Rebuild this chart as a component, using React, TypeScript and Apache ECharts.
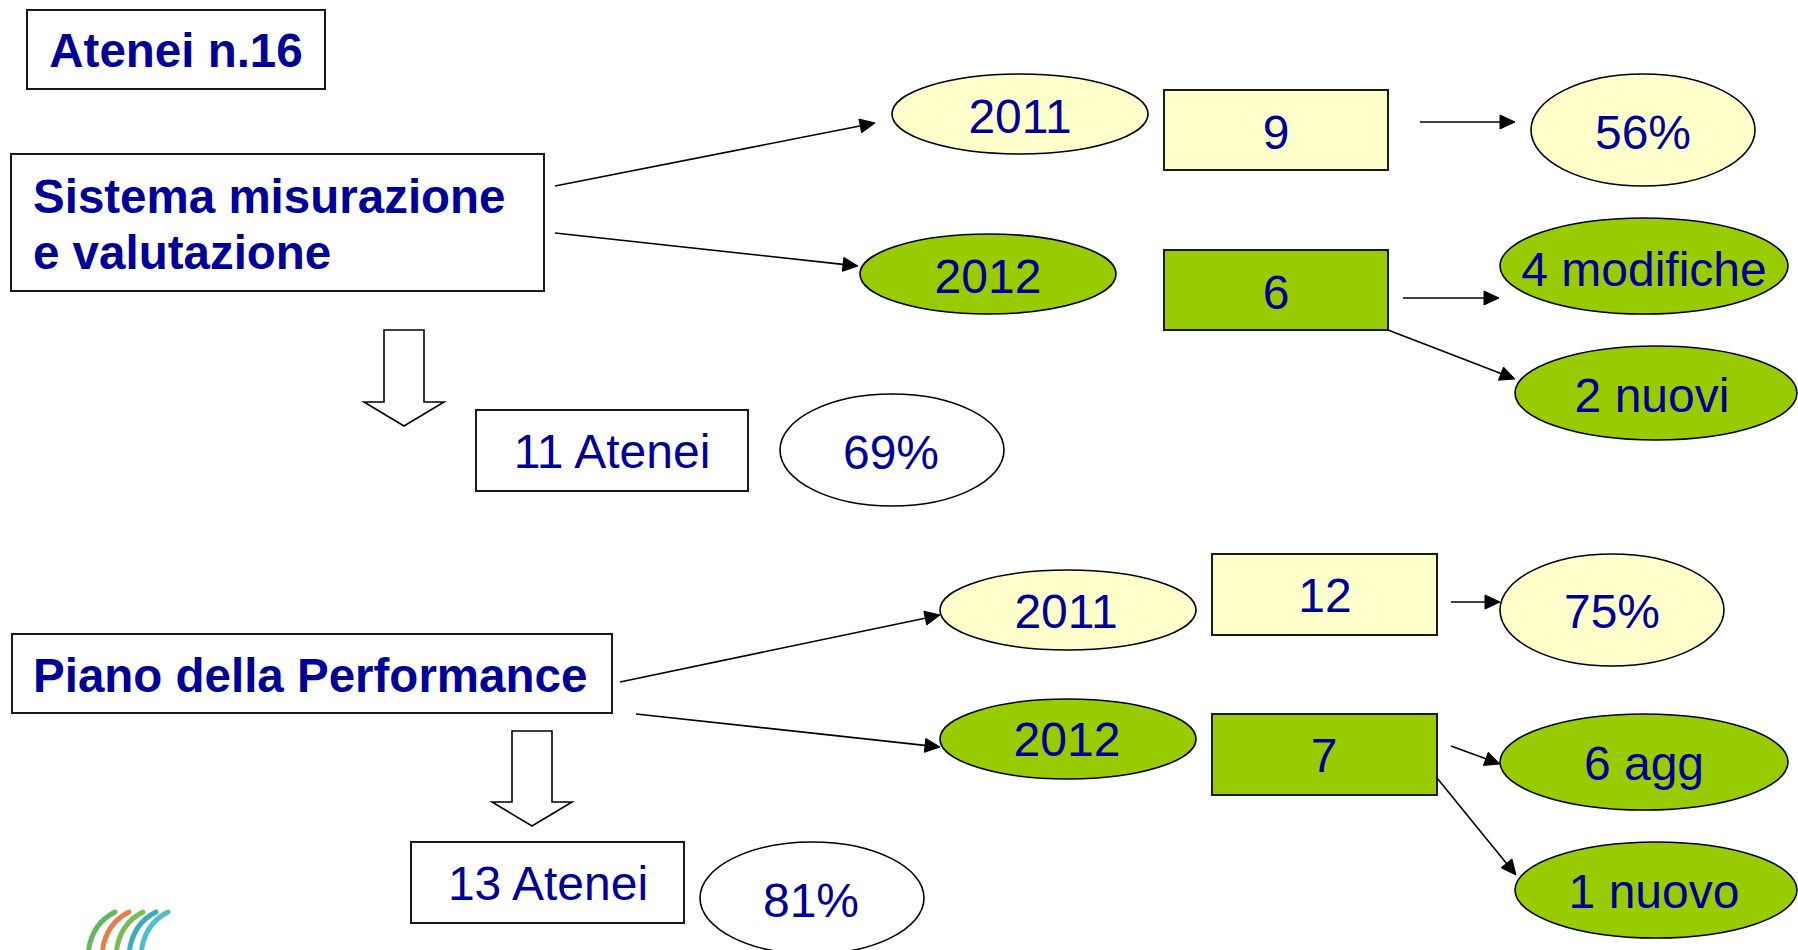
import React, { useEffect, useRef } from "react";
import * as echarts from "echarts";

// ---- content ----
const TITLE = "Atenei n.16";
const sectionTitles = ["Sistema misurazione\ne valutazione", "Piano della Performance"];
const years = ["2011", "2012"];
const sistemaCounts = ["9", "6"];
const pianoCounts = ["12", "7"];
const sistemaOutcomes = ["56%", "4 modifiche", "2 nuovi"];
const pianoOutcomes = ["75%", "6 agg", "1 nuovo"];
const totals = ["11 Atenei", "13 Atenei"];
const totalPct = ["69%", "81%"];

// ---- style ----
const NAVY = "#000099";
const YELLOW = "#FFFFCC";
const GREEN = "#99CC00";
const FONT = '"Liberation Sans", Arial, Helvetica, sans-serif';
const FS = 48;
const FS_BOLD = 47.5;

function rectEl(x: number, y: number, w: number, h: number, fill: string) {
  return {
    type: "rect",
    shape: { x, y, width: w, height: h },
    style: { fill, stroke: "#1a1a1a", lineWidth: 2 },
  };
}
function ellipseEl(cx: number, cy: number, rx: number, ry: number, fill: string) {
  return {
    type: "ellipse",
    shape: { cx, cy, rx, ry },
    style: { fill, stroke: "#000", lineWidth: 1.6 },
  };
}
function textEl(x: number, y: number, text: string, bold = false, align = "center") {
  return {
    type: "text",
    x,
    y,
    z: 10,
    style: {
      text,
      fill: NAVY,
      fontSize: bold ? FS_BOLD : FS,
      fontFamily: FONT,
      fontWeight: bold ? "bold" : "normal",
      align,
      verticalAlign: "middle",
      textAlign: align,
      textVerticalAlign: "middle",
    },
  };
}
function arrowEls(x1: number, y1: number, x2: number, y2: number) {
  const dx = x2 - x1;
  const dy = y2 - y1;
  const len = Math.sqrt(dx * dx + dy * dy);
  const ux = dx / len;
  const uy = dy / len;
  const L = 15;
  const W = 7;
  const bx = x2 - ux * L;
  const by = y2 - uy * L;
  return [
    {
      type: "line",
      shape: { x1, y1, x2: bx + ux * 2, y2: by + uy * 2 },
      style: { stroke: "#000", lineWidth: 1.6 },
    },
    {
      type: "polygon",
      shape: {
        points: [
          [x2, y2],
          [bx - uy * W, by + ux * W],
          [bx + uy * W, by - ux * W],
        ],
      },
      style: { fill: "#000", stroke: "#000", lineWidth: 1 },
    },
  ];
}
function hollowDown(xl: number, xr: number, yTop: number, yNeck: number, hl: number, hr: number, tipY: number) {
  const tipX = (hl + hr) / 2;
  return {
    type: "polygon",
    shape: {
      points: [
        [xl, yTop],
        [xr, yTop],
        [xr, yNeck],
        [hr, yNeck],
        [tipX, tipY],
        [hl, yNeck],
        [xl, yNeck],
      ],
    },
    style: { fill: "#fff", stroke: "#000", lineWidth: 1.6 },
  };
}

function logoEls() {
  const colors = ["#55B04F", "#E2703A", "#6DB345", "#27A3B4", "#3FB6C6"];
  const bases = [88, 102, 116, 129, 141];
  const els: any[] = [];
  colors.forEach((c, i) => {
    const x0 = bases[i];
    els.push({
      type: "bezierCurve",
      shape: { x1: x0, y1: 954, cpx1: x0 + 3, cpy1: 924, x2: x0 + 27, y2: 912 },
      style: { stroke: c, lineWidth: 5, lineCap: "round", fill: "none", opacity: 0.9 },
    });
  });
  return els;
}

export default function App() {
  const ref = useRef<HTMLDivElement>(null);
  useEffect(() => {
    document.body.style.margin = "0";
    const chart = echarts.init(ref.current!, undefined, { renderer: "svg" });
    const [sisLine1, sisLine2] = sectionTitles[0].split("\n");
    const els: any[] = [
      // title
      rectEl(27, 10, 298, 79, "#fff"),
      textEl(176, 50, TITLE, true),

      // ----- Sistema misurazione e valutazione -----
      rectEl(11, 154, 533, 137, "#fff"),
      textEl(33, 196, sisLine1, true, "left"),
      textEl(33, 252, sisLine2, true, "left"),
      ...arrowEls(555, 186, 875, 123),
      ...arrowEls(555, 233, 858, 266),

      ellipseEl(1020, 114, 128, 40, YELLOW),
      textEl(1020, 116, years[0]),
      rectEl(1164, 90, 224, 80, YELLOW),
      textEl(1276, 132, sistemaCounts[0]),
      ...arrowEls(1420, 122, 1515, 122),
      ellipseEl(1643, 130, 112, 56, YELLOW),
      textEl(1643, 132, sistemaOutcomes[0]),

      ellipseEl(988, 274, 128, 40, GREEN),
      textEl(988, 276, years[1]),
      rectEl(1164, 250, 224, 80, GREEN),
      textEl(1276, 292, sistemaCounts[1]),
      ...arrowEls(1403, 298, 1499, 298),
      ...arrowEls(1388, 330, 1515, 379),
      ellipseEl(1644, 266, 144, 48, GREEN),
      textEl(1644, 269, sistemaOutcomes[1]),
      ellipseEl(1656, 393, 141, 47, GREEN),
      textEl(1652, 395, sistemaOutcomes[2]),

      hollowDown(384, 424, 330, 402, 364, 444, 426),
      rectEl(476, 410, 272, 81, "#fff"),
      textEl(612, 451, totals[0]),
      ellipseEl(892, 450, 112, 56, "#fff"),
      textEl(891, 452, totalPct[0]),

      // ----- Piano della Performance -----
      rectEl(12, 634, 600, 79, "#fff"),
      textEl(33, 675, sectionTitles[1], true, "left"),
      ...arrowEls(620, 682, 940, 615),
      ...arrowEls(636, 714, 940, 747),

      ellipseEl(1068, 610, 128, 40, YELLOW),
      textEl(1066, 611, years[0]),
      rectEl(1212, 554, 225, 81, YELLOW),
      textEl(1325, 595, pianoCounts[0]),
      ...arrowEls(1451, 602, 1500, 602),
      ellipseEl(1612, 610, 112, 56, YELLOW),
      textEl(1612, 611, pianoOutcomes[0]),

      ellipseEl(1068, 739, 128, 40, GREEN),
      textEl(1067, 739, years[1]),
      rectEl(1212, 714, 225, 81, GREEN),
      textEl(1324, 755, pianoCounts[1]),
      ...arrowEls(1451, 746, 1500, 764),
      ...arrowEls(1437, 778, 1516, 875),
      ellipseEl(1644, 762, 144, 48, GREEN),
      textEl(1644, 763, pianoOutcomes[1]),
      ellipseEl(1656, 890, 141, 48, GREEN),
      textEl(1654, 891, pianoOutcomes[2]),

      hollowDown(512, 552, 731, 802, 492, 572, 826),
      rectEl(411, 842, 273, 81, "#fff"),
      textEl(548, 883, totals[1]),
      ellipseEl(812, 898, 112, 56, "#fff"),
      textEl(811, 900, totalPct[1]),

      ...logoEls(),
    ];
    chart.setOption({
      animation: false,
      backgroundColor: "#ffffff",
      graphic: { elements: els },
    });
    return () => chart.dispose();
  }, []);
  return (
    <div
      ref={ref}
      style={{ position: "fixed", left: 0, top: 0, width: 1798, height: 950, background: "#fff" }}
    />
  );
}
